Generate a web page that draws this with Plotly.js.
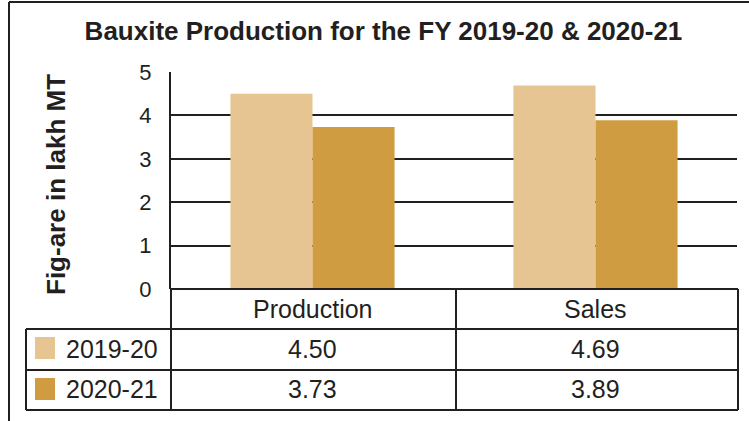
<!DOCTYPE html>
<html><head><meta charset="utf-8">
<script src="https://cdn.plot.ly/plotly-3.0.1.min.js"></script>
<style>body{margin:0;background:#fff}#c{width:749px;height:421px}</style>
</head><body><div id="c"></div>
<script>
const categories = ["Production", "Sales"];
const seriesNames = ["2019-20", "2020-21"];
const values2019 = [4.50, 4.69];
const values2020 = [3.73, 3.89];
const tableLabels2019 = ["4.50", "4.69"];
const tableLabels2020 = ["3.73", "3.89"];
const yTicks = [0, 1, 2, 3, 4, 5];
const colors = ["#E6C592", "#D09C42"];

const W = 749, H = 421, L = 171, R = 12, T = 72, B = 132;
const pw = W - L - R, ph = H - T - B;
const px = x => (x - L) / pw;
const py = y => (H - B - y) / ph;
const ink = "#231f20";
const font = "Liberation Sans, Arial, sans-serif";
const cellFont = {family: font, size: 25, color: ink};

const traces = [
  {type: "bar", x: categories, y: values2019, name: seriesNames[0], marker: {color: colors[0]}},
  {type: "bar", x: categories, y: values2020, name: seriesNames[1], marker: {color: colors[1]}}
];

const shapes = [];
function seg(x0, y0, x1, y1, w) {
  shapes.push({type: "line", xref: "paper", yref: "paper", x0: px(x0), y0: py(y0), x1: px(x1), y1: py(y1), line: {color: ink, width: w || 2}});
}
// outer frame
seg(9, 2, 760, 2, 2);
seg(9, 2, 9, 430, 2);
// table
seg(171, 289, 738, 289);
seg(26, 329, 738, 329);
seg(26, 370, 738, 370);
seg(26, 410, 738, 410);
seg(26, 329, 26, 410);
seg(171, 289, 171, 410);
seg(456, 289, 456, 410);
seg(738, 289, 738, 410);
// legend swatches
[[337, colors[0]], [378, colors[1]]].forEach(([y, c]) => {
  shapes.push({type: "rect", xref: "paper", yref: "paper", x0: px(35), x1: px(55), y0: py(y), y1: py(y + 22), fillcolor: c, line: {width: 0}});
});

const annotations = [];
function txt(text, x, y, opts) {
  annotations.push(Object.assign({text, xref: "paper", yref: "paper", x: px(x), y: py(y), showarrow: false,
    xanchor: "center", yanchor: "middle", font: cellFont}, opts || {}));
}
categories.forEach((c, i) => {
  annotations.push({text: c, xref: "x", x: c, yref: "paper", y: py(309), showarrow: false, yanchor: "middle", font: cellFont});
  annotations.push({text: tableLabels2019[i], xref: "x", x: c, yref: "paper", y: py(349), showarrow: false, yanchor: "middle", font: cellFont});
  annotations.push({text: tableLabels2020[i], xref: "x", x: c, yref: "paper", y: py(389), showarrow: false, yanchor: "middle", font: cellFont});
});
txt(seriesNames[0], 64, 349, {xanchor: "left"});
txt(seriesNames[1], 64, 389, {xanchor: "left"});
txt("<b>Fig-are in lakh MT</b>", 56, 185, {textangle: -90, font: {family: font, size: 26, color: ink}});

const layout = {
  width: W, height: H,
  margin: {l: L, r: R, t: T, b: B, pad: 0},
  paper_bgcolor: "#fff", plot_bgcolor: "#fff",
  showlegend: false,
  barmode: "group", bargap: 0.42, bargroupgap: 0,
  title: {text: "<b>Bauxite Production for the FY 2019-20 &amp; 2020-21</b>", x: 0.512, xanchor: "center", y: 1 - 31 / H, yanchor: "middle",
    font: {family: font, size: 26, color: ink}},
  xaxis: {type: "category", range: [-0.5, 1.5], showticklabels: false, showgrid: false, zeroline: false, showline: false, ticks: ""},
  yaxis: {range: [0, 5], tickvals: yTicks, showgrid: true, gridcolor: ink, gridwidth: 2, zeroline: false,
    showline: true, linecolor: ink, linewidth: 2, ticks: "", ticklabelstandoff: 13,
    tickfont: {family: font, size: 22, color: ink}},
  shapes, annotations
};
Plotly.newPlot("c", traces, layout, {displayModeBar: false, staticPlot: true});
</script></body></html>
